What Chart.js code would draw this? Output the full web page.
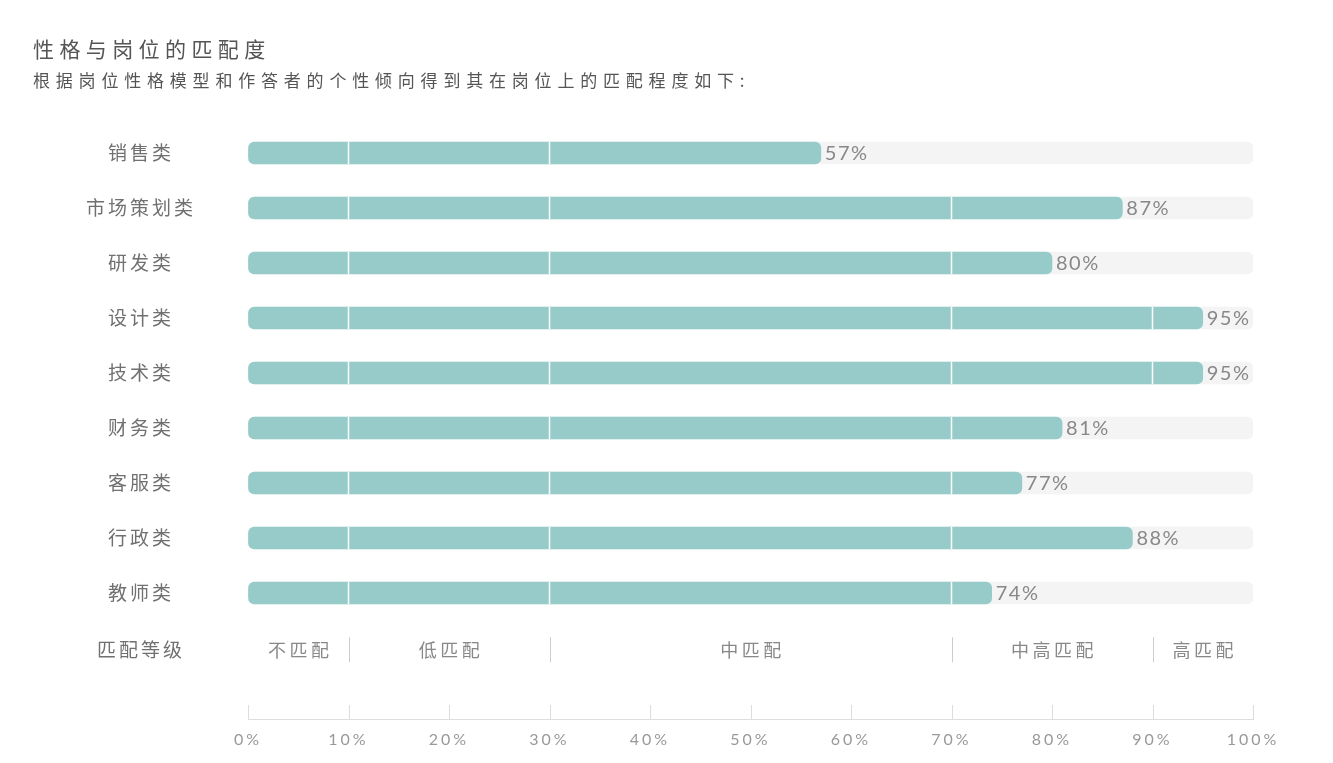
<!DOCTYPE html>
<html>
<head>
<meta charset="utf-8">
<script src="https://cdn.jsdelivr.net/npm/chart.js@4/dist/chart.umd.min.js"></script>
<style>
html,body{margin:0;padding:0;background:#fff;}
#wrap{position:relative;width:1333px;height:763px;}
.ttl{position:absolute;left:33px;font-family:"Noto Sans CJK SC",sans-serif;color:#555;white-space:nowrap;}
#title{top:38px;font-size:21px;line-height:21px;letter-spacing:5.4px;}
#sub{top:71px;font-size:17px;line-height:17px;letter-spacing:5.8px;}
#box{position:absolute;left:0;top:0;width:1333px;height:763px;}
</style>
</head>
<body>
<div id="wrap">
  <div id="box"><canvas id="c"></canvas></div>
  <div class="ttl" id="title">性格与岗位的匹配度</div>
  <div class="ttl" id="sub">根据岗位性格模型和作答者的个性倾向得到其在岗位上的匹配程度如下:</div>
</div>
<script>
// ---------- data ----------
const jobs = ['销售类','市场策划类','研发类','设计类','技术类','财务类','客服类','行政类','教师类'];
const matchPct = [57, 87, 80, 95, 95, 81, 77, 88, 74];
const levelRowLabel = '匹配等级';
const levelNames = ['不匹配','低匹配','中匹配','中高匹配','高匹配'];
const levelBounds = [0, 10, 30, 70, 90, 100];

// row positions on the y scale (jobs at 0..8, level row a bit lower)
const levelRowPos = 9.04;
const yLabels = [...jobs, levelRowLabel];
const yTickPos = [...jobs.map((_, i) => i), levelRowPos];

const FONT = 'Lato, "Noto Sans CJK SC", sans-serif';

// letter spacing for the library's own text (ctx state is reset on resize)
const spacing = {
  id: 'spacing',
  beforeLayout(c){ c.ctx.letterSpacing = '3px'; },
  beforeDraw(c){ c.ctx.letterSpacing = '3px'; }
};

function vline(ctx, px, y0, y1){
  ctx.beginPath(); ctx.moveTo(px, y0); ctx.lineTo(px, y1); ctx.stroke();
}

// breaks in bars, value labels, level row, upward axis ticks
const overlay = {
  id: 'overlay',
  afterDatasetsDraw(c){
    const {ctx, scales: {x, y}} = c;
    const bars = c.getDatasetMeta(0).data;
    ctx.save();
    ctx.strokeStyle = '#fff'; ctx.lineWidth = 1.5;
    bars.forEach((b, i) => {
      levelBounds.slice(1, -1).forEach(v => {
        if (v < matchPct[i]) vline(ctx, x.getPixelForValue(v), b.y - b.height/2, b.y + b.height/2);
      });
    });

    ctx.letterSpacing = '1.5px';
    ctx.font = '20px ' + FONT;
    ctx.fillStyle = '#888'; ctx.textBaseline = 'middle'; ctx.textAlign = 'left';
    bars.forEach((b, i) => ctx.fillText(matchPct[i] + '%', b.x + 4, b.y + 1));

    const ly = y.getPixelForValue(levelRowPos);
    ctx.letterSpacing = '3.5px';
    ctx.font = '18px "Noto Sans CJK SC", sans-serif';
    ctx.textAlign = 'center'; ctx.fillStyle = '#888';
    levelNames.forEach((n, i) => {
      const mid = (levelBounds[i] + levelBounds[i+1]) / 2;
      ctx.fillText(n, x.getPixelForValue(mid) + 2, ly);
    });
    ctx.strokeStyle = '#ccc'; ctx.lineWidth = 1;
    levelBounds.slice(1, -1).forEach(v => vline(ctx, Math.round(x.getPixelForValue(v)) + 0.5, ly - 13, ly + 12));

    ctx.strokeStyle = '#ddd';
    x.ticks.forEach(t => vline(ctx, Math.round(x.getPixelForValue(t.value)) + 0.5, y.bottom - 14, y.bottom));
    ctx.restore();
  }
};

new Chart(document.getElementById('c').getContext('2d'), {
  type: 'bar',
  data: {
    datasets: [
      {data: matchPct.map((v, i) => ({x: v, y: i})), backgroundColor: '#96cbca', order: 0},
      {data: jobs.map((_, i) => ({x: 100, y: i})), backgroundColor: '#f4f4f4', order: 1}
    ]
  },
  options: {
    indexAxis: 'y',
    animation: false, responsive: true, maintainAspectRatio: false,
    layout: {padding: {top: 125.5, right: 80, bottom: 0, left: 0}},
    datasets: {bar: {barThickness: 22, borderRadius: 6, borderSkipped: false, grouped: false}},
    scales: {
      x: {
        type: 'linear', min: 0, max: 100,
        grid: {drawOnChartArea: false, drawTicks: false},
        border: {color: '#ddd'},
        ticks: {stepSize: 10, padding: 11, color: '#999', font: {size: 16, family: FONT}, callback: v => v + '%'},
        afterFit: s => { s.height = 44; s.paddingLeft = 0; s.paddingRight = 0; }
      },
      y: {
        type: 'linear', reverse: true, min: -0.5, max: 10.29, offset: false,
        grid: {display: false}, border: {display: false},
        afterBuildTicks: s => { s.ticks = yTickPos.map(v => ({value: v})); },
        ticks: {autoSkip: false, crossAlign: 'center', padding: 44, color: '#707070',
                font: {size: 19, family: '"Noto Sans CJK SC", sans-serif'},
                callback: (v, i) => yLabels[i]},
        afterFit: s => { s.width = 248; s.paddingTop = 0; s.paddingBottom = 0; }
      }
    },
    plugins: {legend: {display: false}, tooltip: {enabled: false}}
  },
  plugins: [spacing, overlay]
});
</script>
</body>
</html>
